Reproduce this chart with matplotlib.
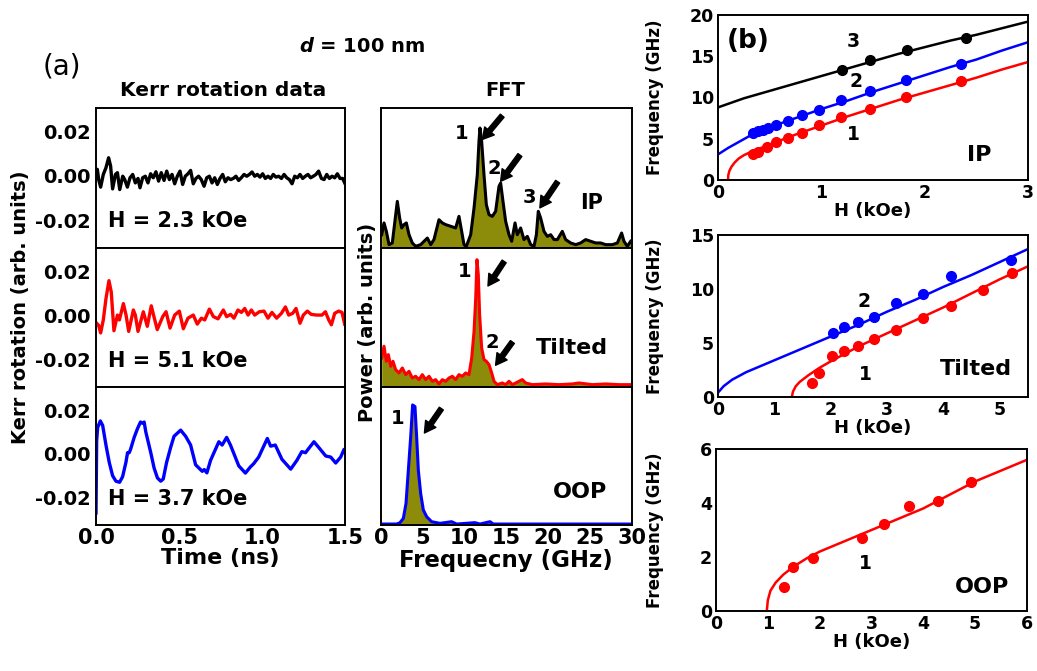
import matplotlib.pyplot as plt
import numpy as np

plt.rcParams['font.family'] = ['DejaVu Sans']
plt.rcParams['font.weight'] = 'bold'
plt.rcParams['axes.labelweight'] = 'bold'
plt.rcParams['axes.linewidth'] = 1.4

# ---- (a) Kerr rotation traces, time in ns, signal in 1e-3 arb. units ----
t_ip = [0.000, 0.008, 0.016, 0.028, 0.044, 0.060, 0.076, 0.088, 0.100, 0.117, 0.129, 0.143, 0.161, 0.173,
        0.189, 0.205, 0.221, 0.237, 0.253, 0.265, 0.281, 0.297, 0.313, 0.329, 0.345, 0.361, 0.377, 0.393,
        0.410, 0.426, 0.442, 0.458, 0.474, 0.490, 0.506, 0.522, 0.538, 0.554, 0.570, 0.586, 0.602, 0.618,
        0.634, 0.651, 0.667, 0.683, 0.699, 0.715, 0.731, 0.747, 0.763, 0.779, 0.795, 0.811, 0.827, 0.843,
        0.859, 0.875, 0.892, 0.908, 0.924, 0.940, 0.956, 0.972, 0.988, 1.004, 1.020, 1.036, 1.052, 1.068,
        1.084, 1.100, 1.117, 1.133, 1.149, 1.165, 1.181, 1.197, 1.213, 1.229, 1.245, 1.261, 1.277, 1.293,
        1.309, 1.325, 1.341, 1.358, 1.374, 1.390, 1.406, 1.422, 1.438, 1.454, 1.470, 1.486, 1.498]
kerr_ip = [0.0, 2.9, -1.7, -5.1, 0.6, 3.6, 8.1, 4.4, -5.9, 0.6, 1.4, -6.2, -0.2, -1.7,
           -5.1, -0.9, 0.6, -3.2, -1.2, -5.4, -0.9, -0.2, -3.2, 0.9, -0.9, 1.8, -2.4, 1.4,
           -2.1, 2.1, -1.7, 0.6, -3.6, -0.2, 2.1, -3.9, -0.2, 0.9, 2.4, -3.6, -1.2, -0.2,
           -1.7, -4.7, -0.9, -0.2, -3.2, -0.9, -3.9, -1.2, 0.6, -2.7, -0.9, -1.7, -1.2, -0.2,
           -2.1, -0.9, 0.6, -0.2, 0.6, 1.7, -0.2, 0.6, -0.6, 0.9, -1.2, -0.2, -1.2, 0.6,
           -0.6, -0.2, -1.2, 0.6, -0.9, -1.7, -3.6, -0.2, -0.9, 0.6, -1.2, -0.2, 0.6, -0.9,
           -0.2, 0.6, 2.1, -1.2, -1.7, 0.6, -1.2, -0.2, -0.9, 0.9, -1.2, -1.2, -3.2]

t_tilt = [0.004, 0.016, 0.028, 0.044, 0.060, 0.078, 0.092, 0.108, 0.129, 0.141, 0.165, 0.181, 0.197, 0.225,
          0.237, 0.253, 0.285, 0.309, 0.333, 0.349, 0.369, 0.402, 0.422, 0.446, 0.474, 0.502, 0.526, 0.554,
          0.586, 0.610, 0.635, 0.655, 0.683, 0.707, 0.735, 0.767, 0.787, 0.811, 0.831, 0.855, 0.876, 0.896,
          0.916, 0.936, 0.956, 0.984, 1.012, 1.036, 1.060, 1.088, 1.117, 1.141, 1.161, 1.185, 1.205, 1.229,
          1.249, 1.273, 1.297, 1.329, 1.361, 1.382, 1.402, 1.418, 1.438, 1.462, 1.482, 1.498]
kerr_tilt = [-3.6, -4.6, -8.0, -2.1, 7.5, 15.7, 10.5, -7.0, 0.1, -2.1, 5.3, 0.1, -7.3, 2.4,
             0.1, -7.3, 1.6, -5.0, 4.3, -0.6, -6.5, -0.6, 1.6, -5.8, 0.1, 1.9, -6.1, -1.3,
             0.1, -4.0, -1.3, -2.1, 2.8, -0.6, -1.6, 2.4, -0.6, 0.4, -1.3, 2.4, 1.3, 3.1,
             0.1, 2.4, 0.1, 1.6, 1.9, -1.3, 1.3, -1.3, 0.9, 3.8, 0.1, 0.9, 3.1, -3.6,
             0.1, 1.9, 0.4, 0.1, 0.1, 1.6, -2.1, -4.3, 0.9, 1.9, 1.3, -4.0]

t_oop = [0.000, 0.004, 0.010, 0.026, 0.040, 0.060, 0.080, 0.100, 0.120, 0.142, 0.160, 0.180, 0.190, 0.200,
         0.208, 0.230, 0.250, 0.268, 0.280, 0.290, 0.300, 0.330, 0.350, 0.370, 0.390, 0.405, 0.425, 0.450,
         0.470, 0.510, 0.540, 0.570, 0.600, 0.620, 0.640, 0.652, 0.668, 0.690, 0.740, 0.760, 0.787, 0.810,
         0.860, 0.900, 0.930, 0.950, 0.980, 1.032, 1.052, 1.080, 1.120, 1.173, 1.210, 1.240, 1.262, 1.282,
         1.313, 1.343, 1.384, 1.414, 1.444, 1.474, 1.494, 1.500]
kerr_oop = [-27.0, 6.0, 12.0, 15.0, 13.0, 4.0, -4.0, -10.0, -12.5, -13.0, -10.5, -4.0, 0.5, 0.5,
            2.0, 7.5, 11.5, 14.5, 14.0, 14.5, 10.0, 0.5, -6.5, -11.0, -12.5, -11.5, -4.0, 3.0,
            8.0, 10.8, 8.0, 4.0, -5.0, -6.5, -8.0, -7.2, -8.7, -3.0, 5.5, 4.0, 7.5, 4.0,
            -5.5, -8.8, -6.0, -4.5, -1.5, 7.0, 3.5, 4.0, -2.5, -7.0, -3.0, 1.0, 0.5, 2.5,
            5.5, 2.8, -1.0, -1.5, -4.2, -1.5, 2.0, 1.0]

# ---- (a) FFT spectra, frequency in GHz, power normalised ----
f_ip = [0.08, 0.36, 0.64, 0.96, 1.35, 1.95, 2.23, 2.47, 2.75, 3.03, 3.35, 3.74, 4.14, 4.74, 5.54, 5.94,
        6.33, 6.93, 7.33, 7.73, 8.33, 8.92, 9.32, 9.64, 9.92, 10.20, 10.72, 11.12, 11.51, 11.71, 11.83,
        12.03, 12.31, 12.59, 12.91, 13.31, 13.70, 14.10, 14.30, 14.58, 14.90, 15.30, 15.62, 16.02, 16.29,
        16.69, 17.09, 17.49, 17.89, 18.29, 18.57, 18.80, 19.08, 19.48, 19.88, 20.28, 20.68, 21.08, 21.67,
        22.07, 22.67, 23.27, 23.86, 24.46, 25.06, 25.66, 26.25, 26.85, 27.65, 28.25, 28.76, 29.04, 29.44,
        29.84]
p_ip = [0.095, 0.179, 0.119, 0.024, 0.036, 0.333, 0.214, 0.143, 0.167, 0.179, 0.095, 0.036, 0.012, 0.024,
        0.071, 0.024, 0.060, 0.202, 0.179, 0.167, 0.155, 0.143, 0.226, 0.119, 0.024, 0.012, 0.095, 0.286,
        0.524, 0.762, 0.857, 0.762, 0.524, 0.310, 0.238, 0.226, 0.262, 0.440, 0.464, 0.333, 0.190, 0.095,
        0.048, 0.179, 0.095, 0.143, 0.060, 0.083, 0.024, 0.012, 0.095, 0.262, 0.214, 0.119, 0.083, 0.095,
        0.060, 0.060, 0.119, 0.060, 0.036, 0.024, 0.036, 0.060, 0.048, 0.036, 0.036, 0.024, 0.024, 0.036,
        0.107, 0.048, 0.012, 0.048]

f_tilt = [0.08, 0.36, 0.64, 0.88, 1.16, 1.43, 1.75, 2.15, 2.55, 2.95, 3.35, 3.74, 4.14, 4.54, 4.94, 5.34,
          5.74, 6.14, 6.53, 6.93, 7.33, 7.73, 8.13, 8.53, 8.92, 9.32, 9.72, 10.12, 10.52, 10.84, 11.12,
          11.32, 11.47, 11.63, 11.79, 12.03, 12.31, 12.59, 12.91, 13.23, 13.51, 13.90, 14.50, 14.90, 15.30,
          15.70, 16.10, 16.49, 16.89, 17.29, 18.09, 19.68, 21.27, 22.87, 23.66, 25.26, 26.85, 28.45, 29.84]
p_tilt = [0.209, 0.293, 0.185, 0.233, 0.149, 0.185, 0.125, 0.101, 0.137, 0.089, 0.113, 0.065, 0.077, 0.053,
          0.089, 0.053, 0.077, 0.041, 0.053, 0.022, 0.053, 0.041, 0.065, 0.077, 0.053, 0.089, 0.077, 0.101,
          0.089, 0.209, 0.400, 0.640, 0.916, 0.808, 0.520, 0.281, 0.197, 0.185, 0.161, 0.101, 0.041, 0.017,
          0.029, 0.017, 0.041, 0.017, 0.029, 0.041, 0.053, 0.029, 0.017, 0.022, 0.017, 0.022, 0.029, 0.017,
          0.022, 0.017, 0.017]

f_oop = [0.08, 1.87, 2.27, 2.67, 2.99, 3.27, 3.55, 3.78, 4.06, 4.26, 4.46, 4.74, 5.06, 5.46, 6.05, 7.05,
         8.44, 9.04, 11.23, 11.83, 13.03, 13.42, 30.0]
p_oop = [0.007, 0.007, 0.017, 0.048, 0.157, 0.399, 0.640, 0.870, 0.858, 0.640, 0.399, 0.229, 0.109, 0.060,
         0.024, 0.012, 0.024, 0.007, 0.017, 0.007, 0.024, 0.007, 0.007]

# ---- (b) frequency vs field: measured points and fitted curves ----
ip_h1 = [0.34, 0.39, 0.47, 0.56, 0.68, 0.81, 0.98, 1.19, 1.47, 1.82, 2.35]
ip_f1 = [3.2, 3.4, 4.0, 4.6, 5.05, 5.7, 6.7, 7.6, 8.6, 10.1, 12.0]
ip_h2 = [0.34, 0.39, 0.44, 0.48, 0.56, 0.68, 0.81, 0.98, 1.19, 1.47, 1.82, 2.35]
ip_f2 = [5.66, 5.9, 6.1, 6.3, 6.7, 7.1, 7.9, 8.5, 9.7, 10.8, 12.1, 14.1]
ip_h3 = [1.2, 1.47, 1.83, 2.4]
ip_f3 = [13.3, 14.5, 15.8, 17.2]
ip_fit_h1 = [0.097, 0.10, 0.11, 0.13, 0.16, 0.20, 0.25, 0.30, 0.40, 0.50, 0.75, 1.0, 1.25, 1.5, 1.75, 2.0,
             2.25, 2.5, 2.75, 3.0]
ip_fit_f1 = [0.0, 0.6, 1.1, 1.6, 2.1, 2.6, 3.0, 3.3, 3.8, 4.3, 5.5, 6.6, 7.7, 8.7, 9.7, 10.6, 11.5, 12.4,
             13.4, 14.3]
ip_fit_h2 = [0.0, 0.1, 0.2, 0.3, 0.4, 0.5, 0.75, 1.0, 1.25, 1.5, 1.75, 2.0, 2.25, 2.5, 2.75, 3.0]
ip_fit_f2 = [3.1, 3.9, 4.6, 5.3, 5.9, 6.4, 7.5, 8.6, 9.6, 10.7, 11.7, 12.7, 13.7, 14.6, 15.7, 16.7]
ip_fit_h3 = [0.0, 0.25, 0.5, 0.75, 1.0, 1.25, 1.5, 1.75, 2.0, 2.25, 2.5, 2.75, 3.0]
ip_fit_f3 = [8.8, 9.9, 10.8, 11.7, 12.6, 13.5, 14.4, 15.3, 16.1, 16.9, 17.6, 18.4, 19.2]

tilt_h1 = [1.67, 1.80, 2.02, 2.23, 2.48, 2.76, 3.15, 3.64, 4.14, 4.70, 5.21]
tilt_f1 = [1.3, 2.24, 3.8, 4.27, 4.74, 5.36, 6.2, 7.32, 8.47, 9.94, 11.5]
tilt_h2 = [2.04, 2.23, 2.48, 2.76, 3.15, 3.64, 4.14, 5.2]
tilt_f2 = [5.9, 6.45, 6.9, 7.45, 8.7, 9.56, 11.2, 12.7]
tilt_fit_h1 = [1.31, 1.33, 1.38, 1.45, 1.6, 1.8, 2.0, 2.5, 3.0, 3.5, 4.0, 4.5, 5.0, 5.5]
tilt_fit_f1 = [0.0, 0.5, 1.0, 1.4, 2.0, 2.7, 3.3, 4.7, 5.9, 7.1, 8.3, 9.6, 10.9, 12.1]
tilt_fit_h2 = [0.0, 0.1, 0.25, 0.5, 1.0, 1.5, 2.0, 2.5, 3.0, 3.5, 4.0, 4.5, 5.0, 5.5]
tilt_fit_f2 = [0.4, 1.0, 1.6, 2.3, 3.4, 4.5, 5.6, 6.7, 7.9, 9.0, 10.2, 11.3, 12.5, 13.7]

oop_h1 = [1.31, 1.48, 1.88, 2.81, 3.25, 3.72, 4.29, 4.91]
oop_f1 = [0.89, 1.64, 1.98, 2.69, 3.22, 3.9, 4.09, 4.77]
oop_fit_h1 = [0.98, 1.0, 1.05, 1.15, 1.3, 1.5, 1.75, 2.0, 2.5, 3.0, 3.5, 4.0, 4.5, 5.0, 5.5, 6.0]
oop_fit_f1 = [0.0, 0.4, 0.75, 1.05, 1.35, 1.65, 1.95, 2.2, 2.6, 3.0, 3.4, 3.8, 4.3, 4.8, 5.2, 5.6]

W, H = 1037, 671
fig = plt.figure(figsize=(W / 100, H / 100), dpi=100)


def rect(l, t, r, b):
    return [l / W, 1 - b / H, (r - l) / W, (b - t) / H]


def px(x, y):
    return x / W, 1 - y / H


olive = '#8c8c0a'
tick_kw = dict(length=0, labelsize=14, pad=4)

# Kerr panels
kerr = [(t_ip, kerr_ip, 'black', 'H = 2.3 kOe', (108, 248)),
        (t_tilt, kerr_tilt, 'red', 'H = 5.1 kOe', (248, 387)),
        (t_oop, kerr_oop, 'blue', 'H = 3.7 kOe', (387, 525))]
for i, (t, v, c, lab, (top, bot)) in enumerate(kerr):
    ax = fig.add_axes(rect(96, top, 345, bot))
    ax.plot(t, np.array(v) * 1e-3, color=c, lw=2.4)
    ax.set_xlim(0, 1.5)
    ax.set_ylim(-0.0325, 0.0305)
    ax.set_yticks([-0.02, 0.0, 0.02])
    ax.set_yticklabels(['-0.02', '0.00', '0.02'])
    ax.set_xticks([0, 0.5, 1.0, 1.5])
    ax.tick_params(**tick_kw)
    ax.tick_params(axis='x', pad=2, labelsize=15)
    if i < 2:
        ax.set_xticklabels([])
    else:
        ax.set_xticklabels(['0.0', '0.5', '1.0', '1.5'])
    ax.text(0.07, -0.0205, lab, fontsize=15, va='center', ha='left')

fig.text(*px(223, 90), 'Kerr rotation data', fontsize=14.5, ha='center', va='center')
fig.text(*px(220, 558), 'Time (ns)', fontsize=16, ha='center', va='center')
fig.text(*px(21, 307), 'Kerr rotation (arb. units)', fontsize=14, rotation=90, ha='center', va='center')

# FFT panels
arrow = dict(arrowstyle='simple,head_width=0.9,head_length=0.8,tail_width=0.35', color='black')
fft = [(f_ip, p_ip, 'black', (108, 248)),
       (f_tilt, p_tilt, 'red', (248, 387)),
       (f_oop, p_oop, 'blue', (387, 525))]
fft_axes = []
for i, (f, p, c, (top, bot)) in enumerate(fft):
    ax = fig.add_axes(rect(381, top, 632, bot))
    ax.fill_between(f, 0, p, color=olive, lw=0)
    ax.plot(f, p, color=c, lw=2.2)
    ax.set_xlim(0, 30)
    ax.set_ylim(0, 1)
    ax.set_yticks([])
    ax.set_xticks(range(0, 31, 5))
    ax.tick_params(**tick_kw)
    ax.tick_params(axis='x', pad=2, labelsize=15)
    if i < 2:
        ax.set_xticklabels([])
    fft_axes.append(ax)

a0, a1, a2 = fft_axes
for num, xy, tail, head in [('1', (9.6, 0.82), (14.7, 0.96), (11.9, 0.76)),
                            ('2', (13.5, 0.57), (16.8, 0.68), (14.1, 0.46)),
                            ('3', (17.7, 0.36), (21.3, 0.49), (18.8, 0.27))]:
    a0.text(*xy, num, fontsize=14, ha='center', va='center')
    a0.annotate('', xy=head, xytext=tail, arrowprops=arrow)
a0.text(25.2, 0.32, 'IP', fontsize=15, ha='center', va='center')
for num, xy, tail, head in [('1', (10.0, 0.83), (14.9, 0.92), (12.6, 0.71)),
                            ('2', (13.3, 0.32), (15.9, 0.34), (13.5, 0.14))]:
    a1.text(*xy, num, fontsize=14, ha='center', va='center')
    a1.annotate('', xy=head, xytext=tail, arrowprops=arrow)
a1.text(22.8, 0.28, 'Tilted', fontsize=16, ha='center', va='center')
a2.text(1.95, 0.77, '1', fontsize=14, ha='center', va='center')
a2.annotate('', xy=(5.0, 0.65), xytext=(7.4, 0.86), arrowprops=arrow)
a2.text(23.8, 0.24, 'OOP', fontsize=16, ha='center', va='center')

fig.text(*px(505, 90), 'FFT', fontsize=14, ha='center', va='center')
fig.text(*px(506, 560), 'Frequecny (GHz)', fontsize=16.5, ha='center', va='center')
fig.text(*px(368, 322), 'Power (arb. units)', fontsize=14, rotation=90, ha='center', va='center')

fig.text(*px(62, 66), '(a)', fontsize=20, fontweight='normal', ha='center', va='center')
fig.text(*px(362, 47), r'$\boldsymbol{d}$ = 100 nm', fontsize=14, ha='center', va='center')

# (b) panels
b_tick = dict(length=0, labelsize=12.5, pad=3)
msz = 7


def bpanel(r, xlim, ylim, xt, yt):
    ax = fig.add_axes(rect(*r))
    ax.set_xlim(*xlim)
    ax.set_ylim(*ylim)
    ax.set_xticks(xt)
    ax.set_yticks(yt)
    ax.tick_params(**b_tick)
    ax.set_xlabel('H (kOe)', fontsize=13, labelpad=0)
    ax.set_ylabel('Frequency (GHz)', fontsize=12)
    ax.yaxis.set_label_coords((664 - r[0]) / (r[2] - r[0]), 0.5)
    return ax


bx = bpanel((718, 15, 1028, 180), (0, 3), (0, 20), [0, 1, 2, 3], [0, 5, 10, 15, 20])
bx.plot(ip_fit_h3, ip_fit_f3, color='black', lw=1.8)
bx.plot(ip_fit_h2, ip_fit_f2, color='blue', lw=1.8)
bx.plot(ip_fit_h1, ip_fit_f1, color='red', lw=1.8)
bx.plot(ip_h3, ip_f3, 'o', color='black', ms=msz)
bx.plot(ip_h2, ip_f2, 'o', color='blue', ms=msz)
bx.plot(ip_h1, ip_f1, 'o', color='red', ms=msz)
bx.text(1.31, 16.8, '3', fontsize=13.5, ha='center', va='center')
bx.text(1.34, 11.9, '2', fontsize=13.5, ha='center', va='center')
bx.text(1.31, 5.5, '1', fontsize=13.5, ha='center', va='center')
bx.text(2.53, 3.0, 'IP', fontsize=16, ha='center', va='center')
bx.text(0.29, 16.8, '(b)', fontsize=19, ha='center', va='center')

tx = bpanel((718, 235, 1028, 397), (0, 5.5), (0, 15), range(6), [0, 5, 10, 15])
tx.plot(tilt_fit_h2, tilt_fit_f2, color='blue', lw=1.8)
tx.plot(tilt_fit_h1, tilt_fit_f1, color='red', lw=1.8)
tx.plot(tilt_h2, tilt_f2, 'o', color='blue', ms=msz)
tx.plot(tilt_h1, tilt_f1, 'o', color='red', ms=msz)
tx.text(2.59, 8.8, '2', fontsize=13.5, ha='center', va='center')
tx.text(2.62, 2.1, '1', fontsize=13.5, ha='center', va='center')
tx.text(4.58, 2.55, 'Tilted', fontsize=16, ha='center', va='center')

ox = bpanel((716, 449, 1027, 611), (0, 6), (0, 6), range(7), [0, 2, 4, 6])
ox.plot(oop_fit_h1, oop_fit_f1, color='red', lw=1.8)
ox.plot(oop_h1, oop_f1, 'o', color='red', ms=msz)
ox.text(2.88, 1.76, '1', fontsize=13.5, ha='center', va='center')
ox.text(5.13, 0.89, 'OOP', fontsize=16, ha='center', va='center')

fig.savefig('out.png', dpi=100)
